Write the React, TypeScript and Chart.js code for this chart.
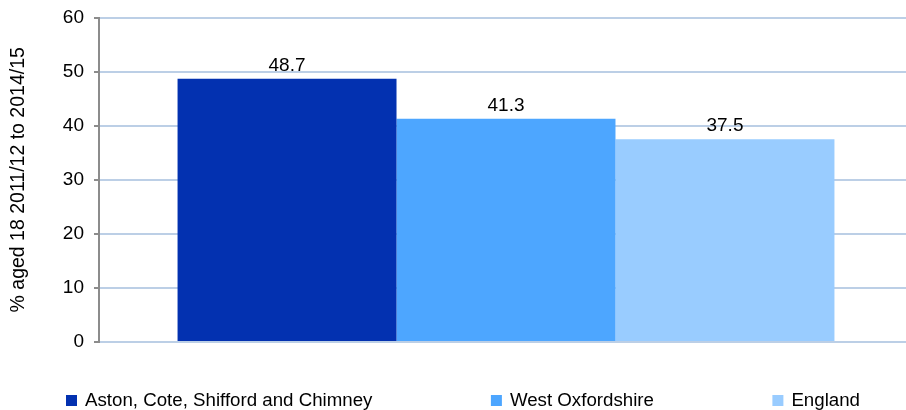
import React, { useEffect, useRef } from "react";
import { Chart, registerables } from "chart.js";

Chart.register(...registerables);

const categories = [""];
const seriesNames = ["Aston, Cote, Shifford and Chimney", "West Oxfordshire", "England"];
const astonValues = [48.7];
const westOxfordshireValues = [41.3];
const englandValues = [37.5];
const seriesColors = ["#0331B0", "#4DA6FF", "#99CCFF"];
const yMin = 0;
const yMax = 60;
const yStep = 10;
const yTitle = "% aged 18 2011/12 to 2014/15";

const FONT = '"Liberation Sans", Arial, sans-serif';

const dataLabelPlugin = {
  id: "dataLabels",
  afterDatasetsDraw(chart: any) {
    const ctx = chart.ctx;
    ctx.save();
    ctx.font = `19px ${FONT}`;
    ctx.fillStyle = "#000";
    ctx.textAlign = "center";
    ctx.textBaseline = "alphabetic";
    chart.data.datasets.forEach((ds: any, i: number) => {
      const meta = chart.getDatasetMeta(i);
      meta.data.forEach((el: any, j: number) => {
        const v = ds.data[j];
        ctx.fillText(Number(v).toFixed(1), el.x, el.y - 8);
      });
    });
    ctx.restore();
  },
};

const legendPlugin = {
  id: "customLegend",
  afterDraw(chart: any) {
    const ctx = chart.ctx;
    ctx.save();
    ctx.font = `18.7px ${FONT}`;
    ctx.textBaseline = "alphabetic";
    ctx.textAlign = "left";
    const box = 11;
    const textGap = 8;
    const itemGap = 118.5;
    const baseline = 406;
    let x = 66;
    chart.data.datasets.forEach((ds: any) => {
      ctx.fillStyle = ds.backgroundColor;
      ctx.fillRect(x, baseline - 11, box, box);
      ctx.fillStyle = "#000";
      ctx.fillText(ds.label, x + box + textGap, baseline);
      x += box + textGap + ctx.measureText(ds.label).width + itemGap;
    });
    ctx.restore();
  },
};

export default function App() {
  const ref = useRef<HTMLCanvasElement>(null);
  useEffect(() => {
    document.body.style.margin = "0";
    const canvas = ref.current;
    if (!canvas) return;
    const values = [astonValues, westOxfordshireValues, englandValues];
    const chart = new Chart(canvas, {
      type: "bar",
      data: {
        labels: categories,
        datasets: seriesNames.map((name, i) => ({
          label: name,
          data: values[i],
          backgroundColor: seriesColors[i],
          borderWidth: 0,
          categoryPercentage: 0.807,
          barPercentage: 1,
        })),
      },
      options: {
        responsive: false,
        animation: false,
        devicePixelRatio: 1,
        layout: { padding: { top: 15, right: 0, bottom: 68, left: 0 } },
        plugins: {
          legend: { display: false },
          tooltip: { enabled: false },
        },
        scales: {
          x: { display: false },
          y: {
            min: yMin,
            max: yMax,
            afterFit: (scale: any) => {
              scale.width = 99;
            },
            ticks: {
              stepSize: yStep,
              padding: 10,
              color: "#000",
              font: { family: FONT, size: 19, lineHeight: 0.8 },
            },
            grid: {
              color: "#bccfe6",
              lineWidth: 2,
              tickLength: 5,
              tickColor: "#8c8c8c",
              tickWidth: 2,
            },
            border: { display: true, color: "#8c8c8c", width: 2 },
            title: {
              display: true,
              text: yTitle,
              color: "#000",
              font: { family: FONT, size: 19.5 },
              padding: { top: 7, bottom: 0 },
            },
          },
        },
      },
      plugins: [dataLabelPlugin, legendPlugin],
    });
    return () => chart.destroy();
  }, []);
  return (
    <div style={{ width: 906, height: 410, overflow: "hidden" }}>
      <canvas ref={ref} width={913} height={410} style={{ display: "block" }} />
    </div>
  );
}
